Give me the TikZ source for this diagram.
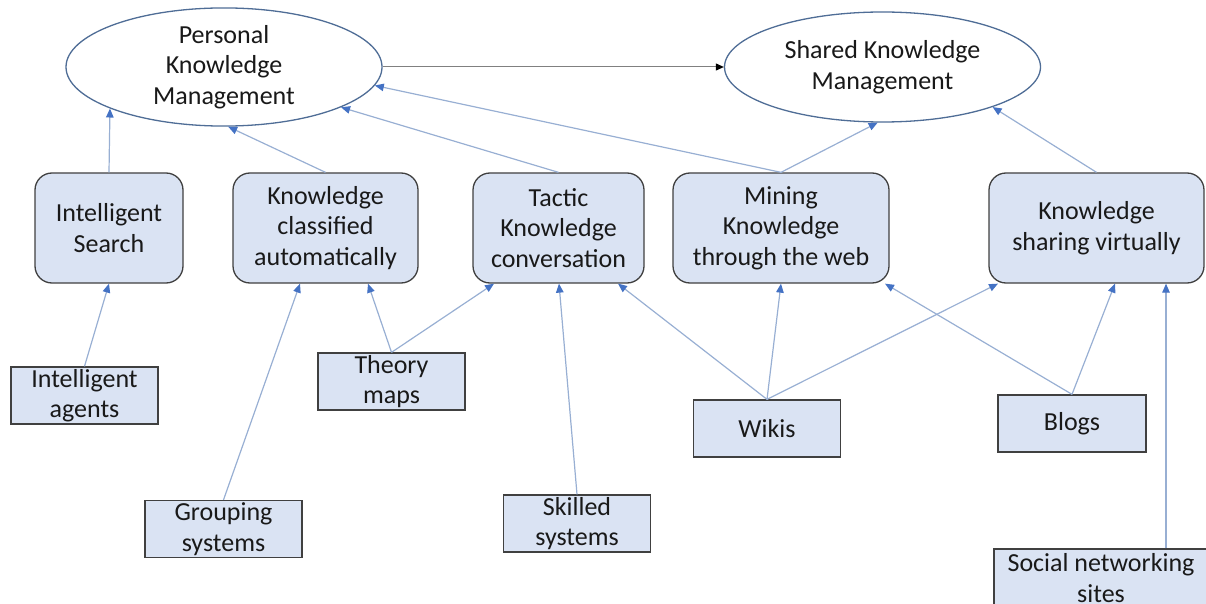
\documentclass[tikz,border=0pt]{standalone}
\usepackage{fontspec}
\setmainfont{Carlito}
\usetikzlibrary{shapes.geometric,arrows.meta}
\definecolor{boxfill}{HTML}{DAE3F3}
\definecolor{boxline}{HTML}{404040}
\definecolor{ellline}{HTML}{4F6D96}
\definecolor{conline}{HTML}{98AFD3}
\definecolor{arrowblue}{HTML}{4472C4}
\definecolor{mainline}{HTML}{808080}
\tikzset{
  txt/.style={font=\fontsize{26}{30.5}\selectfont, text=black!90, align=center, inner sep=0pt},
  ell/.style={txt, ellipse, draw=ellline, line width=1.3pt, fill=white, minimum width=316pt, minimum height=110pt},
  topbox/.style={txt, rectangle, rounded corners=17pt, draw=boxline, line width=1.3pt, fill=boxfill, minimum height=110pt},
  lowbox/.style={txt, rectangle, draw=boxline, line width=1.3pt, fill=boxfill, minimum height=57pt},
  con/.style={draw=conline, line width=1.2pt, -{Triangle[length=9pt,width=7.5pt,color=arrowblue,fill=arrowblue]}},
  mainarrow/.style={draw=mainline, line width=1pt, -{Triangle[length=8pt,width=7pt,color=black,fill=black]}}
}
\begin{document}
\begin{tikzpicture}[x=1pt,y=-1pt]
\useasboundingbox (0,0) rectangle (1206,604);
% ellipses
\node[ell] (pkm) at (224,67) {Personal\\Knowledge\\Management};
\node[ell] (skm) at (882.5,67) {Shared Knowledge\\Management};
% top row
\node[topbox, minimum width=148pt] (is) at (109,228) {Intelligent\\Search};
\node[topbox, minimum width=185pt] (kca) at (325.5,228) {Knowledge\\classified\\automatically};
\node[topbox, minimum width=171pt] (tkc) at (558.5,228) {Tactic\\Knowledge\\conversation};
\node[topbox, minimum width=216pt] (mkw) at (781,228) {Mining\\Knowledge\\through the web};
\node[topbox, minimum width=215pt] (ksv) at (1096.5,228) {Knowledge\\sharing virtually};
% bottom boxes
\node[lowbox, minimum width=147pt] (ia) at (84.5,395.5) {Intelligent\\agents};
\node[lowbox, minimum width=147pt] (tm) at (391.5,381.5) {Theory\\maps};
\node[lowbox, minimum width=157pt] (gs) at (223.5,529) {Grouping\\systems};
\node[lowbox, minimum width=147pt] (ss) at (577,523.5) {Skilled\\systems};
\node[lowbox, minimum width=147pt] (wk) at (767,428.5) {Wikis};
\node[lowbox, minimum width=148pt] (bl) at (1072,423.5) {Blogs};
\node[lowbox, minimum width=214pt, minimum height=58pt] (sn) at (1101,578) {Social networking\\sites};
% main arrow
\draw[mainarrow] (pkm.east) -- (skm.west);
% to PKM
\draw[con] (is.north) -- (pkm.200);
\draw[con] (kca.north) -- (pkm.274);
\draw[con] (tkc.north) -- (pkm.341);
\draw[con] (mkw.north) -- (pkm.353);
% to SKM
\draw[con] (mkw.north) -- (skm.265);
\draw[con] (ksv.north) -- (skm.340);
% lower
\draw[con] (ia.north) -- (is.south);
\draw[con] (gs.north) -- ([xshift=-25.5pt]kca.south);
\draw[con] (tm.north) -- ([xshift=42.5pt]kca.south);
\draw[con] (tm.north) -- ([xshift=-64.5pt]tkc.south);
\draw[con] (ss.north) -- ([xshift=0.5pt]tkc.south);
\draw[con] (wk.north) -- ([xshift=59.5pt]tkc.south);
\draw[con] (wk.north) -- (mkw.south);
\draw[con] (wk.north) -- ([xshift=-98.5pt]ksv.south);
\draw[con] (bl.north) -- ([xshift=104pt]mkw.south);
\draw[con] (bl.north) -- ([xshift=18.5pt]ksv.south);
\draw[con] ([xshift=65pt]sn.north) -- ([xshift=69.5pt]ksv.south);
\end{tikzpicture}
\end{document}
